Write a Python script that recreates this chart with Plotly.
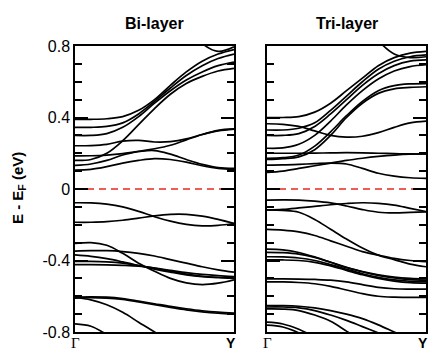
import plotly.graph_objects as go

# k-path sampling from Gamma (0) to Y (1)
k_points = [0.0, 0.1, 0.2, 0.3, 0.4, 0.5, 0.6, 0.7, 0.8, 0.9, 1.0]

# ---------------- Bi-layer bands (eV) ----------------
bilayer_conduction = [
    [1.7, 1.6, 1.5, 1.4, 1.3, 1.2, 1.08, 0.94, 0.815, 0.77, 0.795],
    [0.39, 0.39, 0.393, 0.405, 0.44, 0.50, 0.58, 0.655, 0.715, 0.755, 0.78],
    [0.345, 0.345, 0.35, 0.37, 0.42, 0.49, 0.565, 0.635, 0.69, 0.73, 0.755],
    [0.30, 0.30, 0.31, 0.345, 0.405, 0.48, 0.55, 0.61, 0.655, 0.69, 0.71],
    [0.16, 0.165, 0.20, 0.27, 0.36, 0.45, 0.53, 0.59, 0.63, 0.66, 0.675],
    [0.242, 0.243, 0.25, 0.268, 0.272, 0.263, 0.265, 0.28, 0.305, 0.325, 0.335],
    [0.132, 0.14, 0.16, 0.19, 0.21, 0.225, 0.245, 0.275, 0.305, 0.328, 0.336],
    [0.185, 0.186, 0.19, 0.198, 0.21, 0.215, 0.195, 0.165, 0.138, 0.12, 0.115],
    [0.106, 0.11, 0.125, 0.145, 0.16, 0.17, 0.165, 0.15, 0.13, 0.115, 0.11],
]
bilayer_valence = [
    [-0.077, -0.078, -0.085, -0.10, -0.125, -0.155, -0.18, -0.198, -0.206, -0.203, -0.193],
    [-0.186, -0.186, -0.183, -0.175, -0.163, -0.15, -0.142, -0.142, -0.152, -0.17, -0.193],
    [-0.305, -0.30, -0.315, -0.36, -0.415, -0.46, -0.50, -0.525, -0.535, -0.527, -0.508],
    [-0.347, -0.345, -0.345, -0.35, -0.36, -0.375, -0.395, -0.415, -0.435, -0.452, -0.465],
    [-0.369, -0.377, -0.39, -0.408, -0.428, -0.448, -0.465, -0.48, -0.49, -0.495, -0.497],
    [-0.405, -0.405, -0.408, -0.415, -0.428, -0.443, -0.46, -0.476, -0.488, -0.495, -0.50],
    [-0.423, -0.423, -0.424, -0.427, -0.432, -0.442, -0.455, -0.468, -0.478, -0.485, -0.49],
    [-0.605, -0.603, -0.605, -0.613, -0.627, -0.642, -0.657, -0.67, -0.681, -0.689, -0.694],
    [-0.61, -0.608, -0.61, -0.618, -0.632, -0.647, -0.662, -0.676, -0.687, -0.695, -0.70],
    [-0.607, -0.62, -0.648, -0.69, -0.745, -0.80, -0.86, -0.92, -0.98, -1.04, -1.1],
    [-0.755, -0.768, -0.815, -0.88, -0.95, -1.02, -1.09, -1.16, -1.23, -1.3, -1.37],
]

# ---------------- Tri-layer bands (eV) ----------------
trilayer_conduction = [
    [1.6, 1.5, 1.4, 1.3, 1.2, 1.08, 0.95, 0.83, 0.755, 0.735, 0.74],
    [0.40, 0.40, 0.405, 0.43, 0.48, 0.55, 0.62, 0.69, 0.735, 0.76, 0.77],
    [0.33, 0.33, 0.34, 0.37, 0.44, 0.52, 0.60, 0.67, 0.715, 0.74, 0.75],
    [0.30, 0.30, 0.31, 0.35, 0.42, 0.50, 0.58, 0.645, 0.69, 0.715, 0.722],
    [0.228, 0.23, 0.25, 0.30, 0.38, 0.47, 0.55, 0.615, 0.66, 0.685, 0.695],
    [0.172, 0.175, 0.19, 0.24, 0.32, 0.41, 0.49, 0.55, 0.578, 0.588, 0.59],
    [0.165, 0.17, 0.18, 0.22, 0.30, 0.40, 0.48, 0.535, 0.56, 0.568, 0.572],
    [0.365, 0.362, 0.35, 0.325, 0.30, 0.29, 0.295, 0.315, 0.345, 0.37, 0.38],
    [0.20, 0.20, 0.20, 0.201, 0.202, 0.203, 0.202, 0.20, 0.198, 0.196, 0.196],
    [0.093, 0.10, 0.115, 0.13, 0.145, 0.16, 0.172, 0.182, 0.19, 0.195, 0.196],
    [0.134, 0.135, 0.138, 0.142, 0.145, 0.14, 0.115, 0.088, 0.072, 0.063, 0.06],
]
trilayer_valence = [
    [-0.062, -0.061, -0.062, -0.068, -0.078, -0.095, -0.115, -0.13, -0.134, -0.131, -0.128],
    [-0.117, -0.114, -0.106, -0.097, -0.088, -0.081, -0.077, -0.08, -0.09, -0.108, -0.126],
    [-0.117, -0.12, -0.13, -0.17, -0.225, -0.28, -0.33, -0.37, -0.395, -0.42, -0.435],
    [-0.226, -0.23, -0.24, -0.26, -0.29, -0.32, -0.35, -0.37, -0.388, -0.40, -0.407],
    [-0.336, -0.34, -0.355, -0.38, -0.41, -0.44, -0.462, -0.48, -0.493, -0.50, -0.503],
    [-0.354, -0.356, -0.364, -0.383, -0.41, -0.438, -0.463, -0.483, -0.498, -0.507, -0.511],
    [-0.379, -0.38, -0.386, -0.40, -0.423, -0.449, -0.474, -0.494, -0.508, -0.516, -0.519],
    [-0.397, -0.397, -0.40, -0.41, -0.43, -0.455, -0.48, -0.50, -0.515, -0.524, -0.527],
    [-0.503, -0.503, -0.504, -0.506, -0.51, -0.52, -0.535, -0.55, -0.558, -0.56, -0.56],
    [-0.52, -0.52, -0.523, -0.53, -0.545, -0.565, -0.585, -0.60, -0.605, -0.606, -0.606],
    [-0.653, -0.653, -0.656, -0.665, -0.68, -0.70, -0.725, -0.76, -0.80, -0.84, -0.88],
    [-0.66, -0.66, -0.665, -0.68, -0.705, -0.735, -0.77, -0.805, -0.84, -0.88, -0.92],
    [-0.671, -0.672, -0.68, -0.705, -0.74, -0.795, -0.85, -0.90, -0.95, -1.0, -1.05],
    [-0.745, -0.755, -0.785, -0.83, -0.89, -0.95, -1.01, -1.07, -1.13, -1.19, -1.25],
    [-0.762, -0.772, -0.805, -0.855, -0.92, -0.98, -1.04, -1.1, -1.16, -1.22, -1.28],
]

fermi_level = [0.0, 0.0]
fermi_k = [0.0, 1.0]

panel_titles = ["Bi-layer", "Tri-layer"]
y_tick_vals = [-0.8, -0.4, 0.0, 0.4, 0.8]
y_tick_text = ["-0.8", "-0.4", "0", "0.4", "0.8"]
k_labels = ["\u0393", "Y"]

fig = go.Figure()

def add_panel(bands, xa, ya):
    for b in bands:
        fig.add_trace(go.Scatter(x=k_points, y=b, mode="lines", xaxis=xa, yaxis=ya,
                                 line=dict(color="black", width=1.7, shape="spline", smoothing=1.0),
                                 hoverinfo="skip", showlegend=False))
    fig.add_trace(go.Scatter(x=fermi_k, y=fermi_level, mode="lines", xaxis=xa, yaxis=ya,
                             line=dict(color="#e8281e", width=1.6, dash="7px,5px"),
                             hoverinfo="skip", showlegend=False))

add_panel(bilayer_conduction + bilayer_valence, "x", "y")
add_panel(trilayer_conduction + trilayer_valence, "x2", "y2")

font_sans = "Arial, Liberation Sans, sans-serif"
xdom1 = [75 / 430, 234 / 430]
xdom2 = [267 / 430, 426 / 430]
ydom = [1 - 332 / 351, 1 - 46 / 351]

xcommon = dict(range=[0, 1], showticklabels=False, ticks="", showgrid=False, zeroline=False,
               showline=True, linecolor="black", linewidth=1.5, mirror=True, automargin=False)
ycommon = dict(range=[-0.8, 0.8], tickvals=y_tick_vals, ticktext=y_tick_text,
               ticks="inside", ticklen=13, tickwidth=1.5, tickcolor="black",
               showgrid=False, zeroline=False, showline=True, linecolor="black",
               linewidth=1.5, mirror="ticks", automargin=False,
               minor=dict(dtick=0.1, ticks="inside", ticklen=7, tickwidth=1.5, tickcolor="black", showgrid=False),
               tickfont=dict(family=font_sans, size=16, color="black"), domain=ydom)

fig.update_layout(
    width=430, height=351, autosize=False, margin=dict(l=0, r=0, t=0, b=0, pad=0),
    paper_bgcolor="white", plot_bgcolor="white", showlegend=False,
    xaxis=dict(domain=xdom1, anchor="y", **xcommon),
    yaxis=dict(anchor="x", **ycommon),
    xaxis2=dict(domain=xdom2, anchor="y2", **xcommon),
    yaxis2=dict(anchor="x2", showticklabels=False, **ycommon),
)

annotations = []
for title, dom in zip(panel_titles, [xdom1, xdom2]):
    annotations.append(dict(text="<b>" + title + "</b>", x=(dom[0] + dom[1]) / 2, y=1 - 24 / 351,
                            xref="paper", yref="paper", xanchor="center", yanchor="middle", showarrow=False,
                            font=dict(family=font_sans, size=16, color="black")))
    annotations.append(dict(text=k_labels[0], x=dom[0], y=1 - 333 / 351, xref="paper", yref="paper",
                            xanchor="center", yanchor="top", showarrow=False,
                            font=dict(family="Times New Roman, Liberation Serif, serif", size=15, color="black")))
    annotations.append(dict(text="<b>" + k_labels[1] + "</b>", x=dom[1] - 3 / 430, y=1 - 333 / 351, xref="paper", yref="paper",
                            xanchor="center", yanchor="top", showarrow=False,
                            font=dict(family=font_sans, size=14, color="black")))
annotations.append(dict(text="<b>E - E<sub>F</sub> (eV)</b>", x=18 / 430, y=1 - 188 / 351,
                        xref="paper", yref="paper", xanchor="center", yanchor="middle",
                        showarrow=False, textangle=-90,
                        font=dict(family=font_sans, size=15, color="black")))
fig.update_layout(annotations=annotations)

fig.write_html("out.html")
